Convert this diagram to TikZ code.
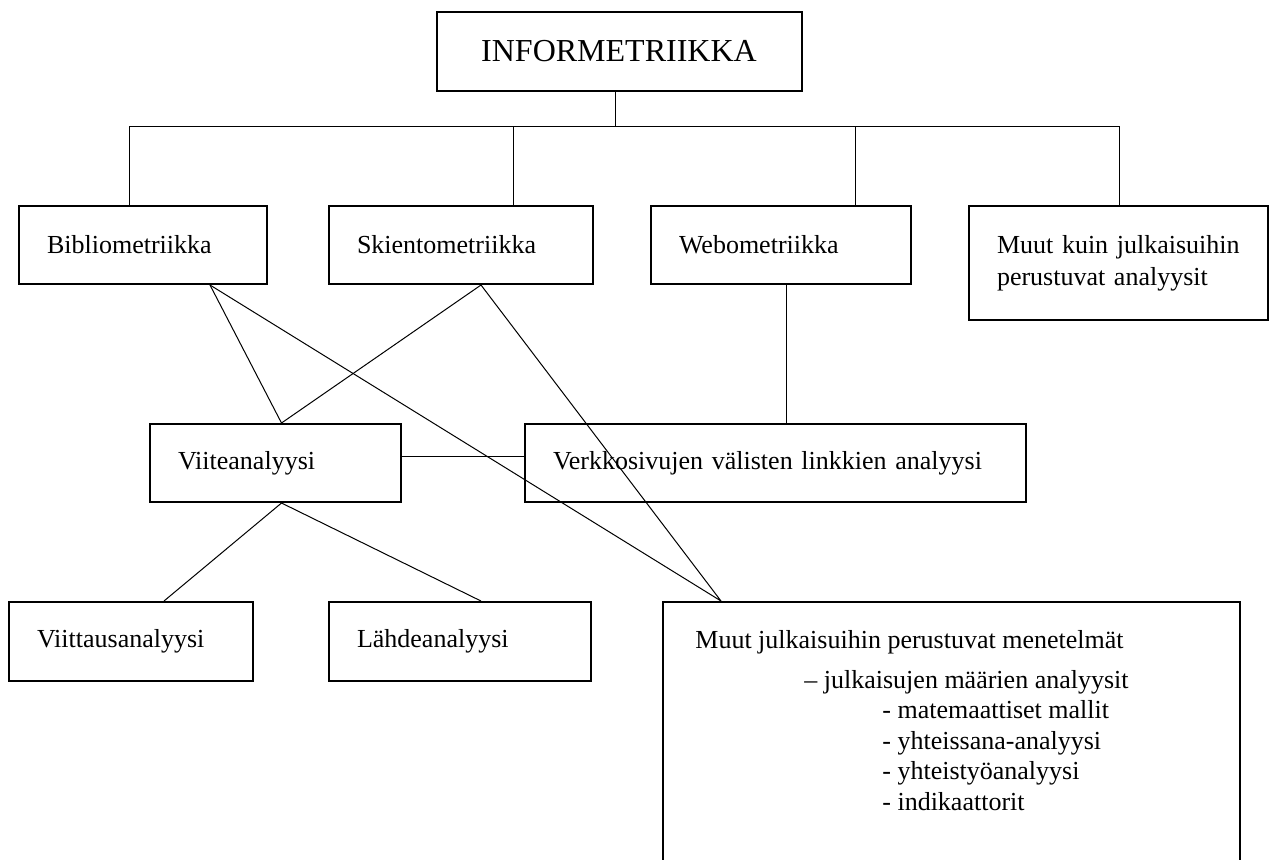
\documentclass[tikz,border=0pt]{standalone}
\usepackage{fontspec}
\setmainfont{Liberation Serif}
\usetikzlibrary{calc}

\begin{document}
\begin{tikzpicture}[x=0.5pt, y=-0.5pt]

    \tikzset{%
        box/.style args={#1/#2}{%
                draw, line width=1pt, text width=#1, minimum height=#2,
                inner xsep=14pt, inner ysep=0pt, align=left,
                font=\fontsize{13}{16}\selectfont
            },
        link/.style={line width=0.5pt}
    }

    \path[use as bounding box] (0, 0) rectangle (1269, 859);
    \clip (0, 0) rectangle (1269, 859);

    \node [draw, line width=1pt, minimum width=182.5pt, minimum height=39.5pt,
        font=\fontsize{16}{19}\selectfont] (info) at (619, 51.5) {INFORMETRIIKKA};

    \node [box=96pt/39pt] (biblio) at (143, 245) {Bibliometriikka};
    \node [box=104pt/39pt] (skient) at (461, 245) {Skientometriikka};
    \node [box=102pt/39pt] (webo) at (781, 245) {Webometriikka};
    \node [box=121.5pt/57pt] (muutkuin) at (1118.5, 263) {Muut kuin julkaisuihin\\perustuvat analyysit};

    \node [box=97.5pt/39pt] (viite) at (275.5, 463) {Viiteanalyysi};
    \node [box=222.5pt/39pt] (verkko) at (775.5, 463) {Verkkosivujen välisten linkkien analyysi};

    \node [box=94pt/39.5pt] (viittaus) at (131, 641.5) {Viittausanalyysi};
    \node [box=103pt/39.5pt] (lahde) at (460, 641.5) {Lähdeanalyysi};
    \node [draw, line width=1pt, minimum width=288.5pt, minimum height=149pt,
        inner sep=0pt] (muutjulk) at (951.5, 751) {};
    \node [anchor=north west, inner sep=0pt, align=left,
        font=\fontsize{13}{15.25}\selectfont] (menetelmat)
        at ($(muutjulk.north west)+(33, 29)$) {%
            Muut julkaisuihin perustuvat menetelmät\\[4.75pt]
            \hspace*{54.5pt}– julkaisujen määrien analyysit\\
            \hspace*{93.5pt}- matemaattiset mallit\\
            \hspace*{93.5pt}- yhteissana-analyysi\\
            \hspace*{93.5pt}- yhteistyöanalyysi\\
            \hspace*{93.5pt}- indikaattorit};

    \coordinate (bar) at (615, 126);
    \draw [link] (info.south -| bar) -- (bar);
    \foreach \n/\x in {biblio/129, skient/513, webo/855, muutkuin/1119} {%
            \coordinate (d\n) at (\x, 126);
            \draw [link] (d\n) -- (d\n |- \n.north);
        }
    \draw [link] (dbiblio) -- (dmuutkuin);

    \draw [link] ($(biblio.south)+(67, 0)$) -- ($(viite.north)+(6, 0)$) -- ($(skient.south)+(20, 0)$);
    \draw [link] ($(biblio.south)+(67, 0)$) -- ($(muutjulk.north west)+(59, 0)$) -- ($(skient.south)+(20, 0)$);
    \draw [link] ($(webo.south)+(5, 0)$) -- ($(verkko.north)+(10.5, 0)$);
    \draw [link] ($(viite.east)+(0, -7)$) -- ($(verkko.west)+(0, -7)$);
    \draw [link] ($(viittaus.north)+(33, 0)$) -- ($(viite.south)+(6, 0)$) -- ($(lahde.north)+(21, 0)$);

\end{tikzpicture}
\end{document}
